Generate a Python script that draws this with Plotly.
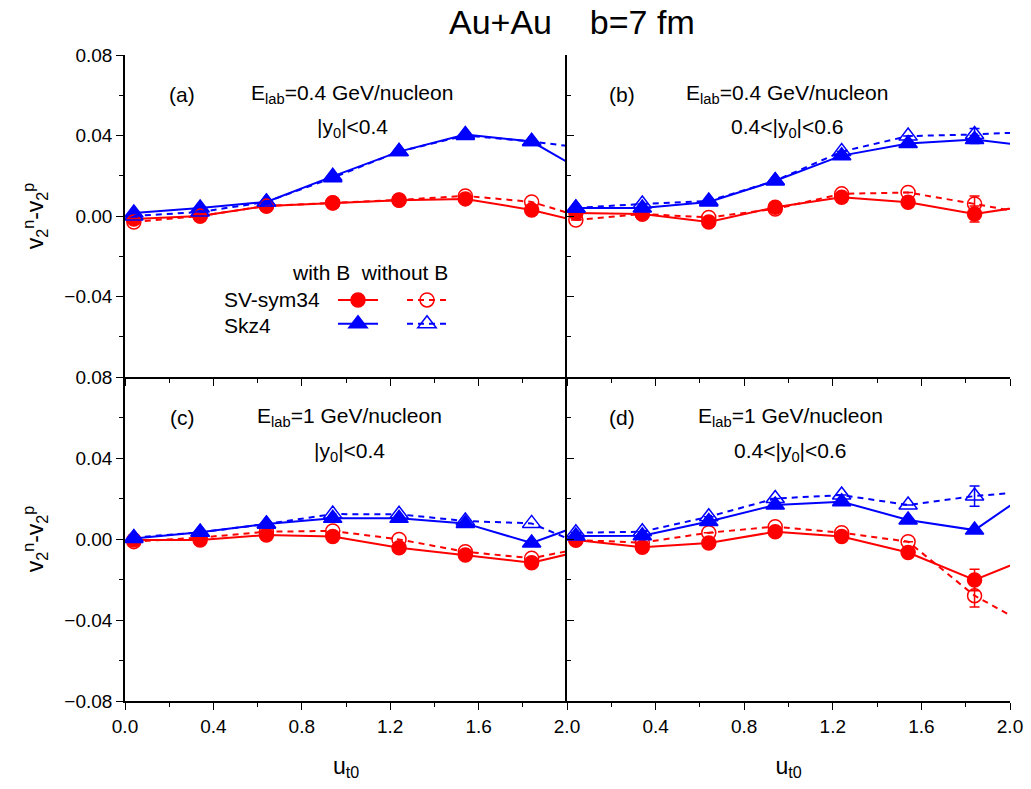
import plotly.graph_objects as go

# ---------------- data ----------------
u_t0 = [0.04, 0.34, 0.64, 0.94, 1.24, 1.54, 1.84, 2.14]

# panel (a): E_lab=0.4 GeV/nucleon, |y0|<0.4
a_sv_B = [-0.0015, 0.0, 0.005, 0.0065, 0.0078, 0.0085, 0.003, -0.005]
a_sv_noB = [-0.003, 0.0, 0.005, 0.0066, 0.008, 0.0100, 0.007, -0.003]
a_skz_B = [0.0015, 0.004, 0.007, 0.0197, 0.032, 0.0405, 0.037, 0.018]
a_skz_noB = [0.0, 0.002, 0.007, 0.019, 0.032, 0.0400, 0.037, 0.033]

# panel (b): E_lab=0.4 GeV/nucleon, 0.4<|y0|<0.6
b_sv_B = [0.0015, 0.001, -0.003, 0.0043, 0.0093, 0.0068, 0.001, 0.006]
b_sv_noB = [-0.002, 0.001, -0.0007, 0.0035, 0.011, 0.0117, 0.006, 0.0]
b_skz_B = [0.004, 0.004, 0.007, 0.0175, 0.030, 0.036, 0.038, 0.034]
b_skz_noB = [0.004, 0.006, 0.0075, 0.0175, 0.032, 0.0397, 0.0405, 0.042]
b_err_sv_B = [0, 0, 0, 0, 0, 0, 0.004, 0]
b_err_sv_noB = [0, 0, 0, 0, 0, 0, 0.004, 0]
b_err_skz_B = [0, 0, 0, 0, 0, 0, 0.002, 0]
b_err_skz_noB = [0, 0, 0, 0, 0, 0, 0.003, 0]

# panel (c): E_lab=1 GeV/nucleon, |y0|<0.4
c_sv_B = [-0.0005, -0.0005, 0.002, 0.0012, -0.0043, -0.0079, -0.0117, -0.004]
c_sv_noB = [-0.0013, 0.0007, 0.0036, 0.004, -0.0002, -0.0063, -0.0095, -0.003]
c_skz_B = [0.0003, 0.0033, 0.0074, 0.0102, 0.0102, 0.0077, -0.002, 0.010]
c_skz_noB = [0.0007, 0.0033, 0.0074, 0.0123, 0.0122, 0.0089, 0.0077, -0.006]

# panel (d): E_lab=1 GeV/nucleon, 0.4<|y0|<0.6
d_sv_B = [-0.0005, -0.0041, -0.002, 0.0036, 0.0012, -0.0067, -0.0202, -0.007]
d_sv_noB = [-0.0005, -0.0018, 0.0031, 0.0061, 0.0031, -0.0013, -0.028, -0.046]
d_skz_B = [0.0015, 0.0016, 0.0086, 0.0168, 0.0184, 0.0094, 0.0044, 0.027]
d_skz_noB = [0.0031, 0.0036, 0.011, 0.020, 0.0217, 0.0168, 0.0212, 0.024]
d_err_sv_B = [0, 0, 0, 0, 0, 0, 0.0053, 0]
d_err_sv_noB = [0, 0, 0, 0, 0, 0, 0.0056, 0]
d_err_skz_noB = [0, 0, 0, 0, 0, 0, 0.005, 0]

x_ticks_left = [0.0, 0.4, 0.8, 1.2, 1.6, 2.0]
x_ticks_right = [0.4, 0.8, 1.2, 1.6, 2.0]
y_ticks_top = [-0.04, 0.0, 0.04, 0.08]
y_ticks_bottom = [-0.08, -0.04, 0.0, 0.04, 0.08]

RED = "#FF0000"
BLUE = "#0000FF"
FONT = "Liberation Sans, Arial, sans-serif"

fig = go.Figure()


def add_series(y, xa, ya, color, withB, circle, err=None, showleg=False, name=""):
    if circle:
        sym = "circle" if withB else "circle-open"
        size = 14
    else:
        sym = "triangle-up" if withB else "triangle-up-open"
        size = 16
    kw = {}
    if err is not None:
        kw["error_y"] = dict(type="data", array=err, visible=True, color=color,
                             thickness=1.5, width=5)
    fig.add_trace(go.Scatter(
        x=u_t0, y=y, xaxis=xa, yaxis=ya, mode="lines+markers",
        line=dict(color=color, width=2, dash="solid" if withB else "6px,5px"),
        marker=dict(symbol=sym, size=size, color=color,
                    line=dict(color=color, width=1.5)),
        showlegend=showleg, name=name,
        legend="legend" if withB else "legend2",
        **kw))


# panel (a)
add_series(a_sv_B, "x", "y", RED, True, True, showleg=True, name="")
add_series(a_skz_B, "x", "y", BLUE, True, False, showleg=True, name="")
add_series(a_sv_noB, "x", "y", RED, False, True, showleg=True, name="")
add_series(a_skz_noB, "x", "y", BLUE, False, False, showleg=True, name="")
# panel (b)
add_series(b_sv_B, "x2", "y2", RED, True, True, err=b_err_sv_B)
add_series(b_sv_noB, "x2", "y2", RED, False, True, err=b_err_sv_noB)
add_series(b_skz_B, "x2", "y2", BLUE, True, False, err=b_err_skz_B)
add_series(b_skz_noB, "x2", "y2", BLUE, False, False, err=b_err_skz_noB)
# panel (c)
add_series(c_sv_B, "x3", "y3", RED, True, True)
add_series(c_sv_noB, "x3", "y3", RED, False, True)
add_series(c_skz_B, "x3", "y3", BLUE, True, False)
add_series(c_skz_noB, "x3", "y3", BLUE, False, False)
# panel (d)
add_series(d_sv_B, "x4", "y4", RED, True, True, err=d_err_sv_B)
add_series(d_sv_noB, "x4", "y4", RED, False, True, err=d_err_sv_noB)
add_series(d_skz_B, "x4", "y4", BLUE, True, False)
add_series(d_skz_noB, "x4", "y4", BLUE, False, False, err=d_err_skz_noB)

W, H = 1031, 789
XL = [125 / W, 567 / W]
XR = [567 / W, 1010 / W]
YT = [1 - 377 / H, 1 - 55 / H]
YB = [1 - 701 / H, 1 - 377 / H]

tickfont = dict(family=FONT, size=19, color="black")


def xax(domain, anchor, tickvals, labels, ticks="outside"):
    return dict(domain=domain, anchor=anchor, range=[0, 2], tickmode="array",
                tickvals=tickvals, showticklabels=labels, ticks=ticks,
                ticklen=7, tickwidth=1, tickcolor="black",
                tickformat=".1f", tickfont=tickfont, automargin=False,
                showline=True, linecolor="black", linewidth=1.5,
                showgrid=False, zeroline=False,
                minor=dict(tickmode="linear", tick0=0, dtick=0.2, ticks=ticks,
                           ticklen=4, tickwidth=1, tickcolor="black", showgrid=False))


def yax(domain, anchor, tickvals, labels, ticks):
    return dict(domain=domain, anchor=anchor, range=[-0.08, 0.08], tickmode="array",
                tickvals=tickvals, showticklabels=labels, ticks=ticks,
                ticklen=7, tickwidth=1, tickcolor="black",
                tickformat=".2f", tickfont=tickfont, automargin=False,
                showline=True, linecolor="black", linewidth=1.5,
                showgrid=False, zeroline=False,
                minor=dict(tickmode="linear", tick0=0, dtick=0.02, ticks=ticks,
                           ticklen=4, tickwidth=1, tickcolor="black", showgrid=False))


ytitle = dict(text="v<sub>2</sub><sup>n</sup>-v<sub>2</sub><sup>p</sup>",
              font=dict(family=FONT, size=23, color="black"), standoff=14)
xtitle = dict(text="u<sub>t0</sub>", font=dict(family=FONT, size=23, color="black"),
              standoff=22)

layout = dict(
    width=W, height=H, margin=dict(l=0, r=0, t=0, b=0, autoexpand=False),
    plot_bgcolor="white", paper_bgcolor="white",
    xaxis=xax(XL, "y", x_ticks_left, False),
    xaxis2=xax(XR, "y2", x_ticks_right, False),
    xaxis3=dict(xax(XL, "y3", x_ticks_left, True), title=xtitle),
    xaxis4=dict(xax(XR, "y4", x_ticks_right, True), title=xtitle),
    yaxis=dict(yax(YT, "x", y_ticks_top, True, "outside"), title=ytitle),
    yaxis2=yax(YT, "x2", y_ticks_top, False, "inside"),
    yaxis3=dict(yax(YB, "x3", y_ticks_bottom, True, "outside"), title=ytitle),
    yaxis4=yax(YB, "x4", y_ticks_bottom, False, "inside"),
)

# mirrored inside ticks on top and right edges
for i, (xo, yo) in enumerate([("x", "y"), ("x2", "y2"), ("x3", "y3"), ("x4", "y4")]):
    xa = xax(XL, yo, x_ticks_left, False, ticks="inside")
    xa.pop("domain")
    xa.update(overlaying=xo, side="top")
    layout["xaxis%d" % (5 + i)] = xa
    ya = yax(YT, xo, y_ticks_bottom, False, "inside")
    ya.pop("domain")
    ya.update(overlaying=yo, side="right")
    layout["yaxis%d" % (5 + i)] = ya

fig.update_layout(**layout)

legfont = dict(family=FONT, size=16, color="black")
fig.update_layout(
    legend=dict(x=333 / W, y=1 - 283 / H, xanchor="left", yanchor="top",
                bgcolor="rgba(0,0,0,0)", font=legfont, itemwidth=40,
                traceorder="normal", tracegroupgap=0),
    legend2=dict(x=402 / W, y=1 - 283 / H, xanchor="left", yanchor="top",
                 bgcolor="rgba(0,0,0,0)", font=legfont, itemwidth=40,
                 traceorder="normal", tracegroupgap=0),
)

ann_font = dict(family=FONT, size=21, color="black")
anns = [
    dict(text="Au+Au&nbsp;&nbsp;&nbsp;&nbsp;b=7 fm", x=572 / W, y=1 - 1 / H,
         yanchor="top", font=dict(family=FONT, size=34, color="black")),
    dict(text="(a)", x=182 / W, y=1 - 94 / H, font=ann_font),
    dict(text="E<sub>lab</sub>=0.4 GeV/nucleon", x=352 / W, y=1 - 94 / H, font=ann_font),
    dict(text="|y<sub>0</sub>|<0.4", x=352 / W, y=1 - 128 / H, font=ann_font),
    dict(text="(b)", x=622 / W, y=1 - 94 / H, font=ann_font),
    dict(text="E<sub>lab</sub>=0.4 GeV/nucleon", x=787 / W, y=1 - 94 / H, font=ann_font),
    dict(text="0.4<|y<sub>0</sub>|<0.6", x=787 / W, y=1 - 128 / H, font=ann_font),
    dict(text="(c)", x=182 / W, y=1 - 417 / H, font=ann_font),
    dict(text="E<sub>lab</sub>=1 GeV/nucleon", x=349 / W, y=1 - 417 / H, font=ann_font),
    dict(text="|y<sub>0</sub>|<0.4", x=349 / W, y=1 - 452 / H, font=ann_font),
    dict(text="(d)", x=622 / W, y=1 - 417 / H, font=ann_font),
    dict(text="E<sub>lab</sub>=1 GeV/nucleon", x=790 / W, y=1 - 417 / H, font=ann_font),
    dict(text="0.4<|y<sub>0</sub>|<0.6", x=790 / W, y=1 - 452 / H, font=ann_font),
    dict(text="with B&nbsp;&nbsp;without B", x=370 / W, y=1 - 272 / H, font=ann_font),
    dict(text="SV-sym34", x=222 / W, y=1 - 300 / H, xanchor="left", font=ann_font),
    dict(text="Skz4", x=222 / W, y=1 - 325 / H, xanchor="left", font=ann_font),
]
for a in anns:
    a.setdefault("xanchor", "center")
    a.setdefault("yanchor", "middle")
    a.update(xref="paper", yref="paper", showarrow=False)
fig.update_layout(annotations=anns)

fig.write_html("out.html")
